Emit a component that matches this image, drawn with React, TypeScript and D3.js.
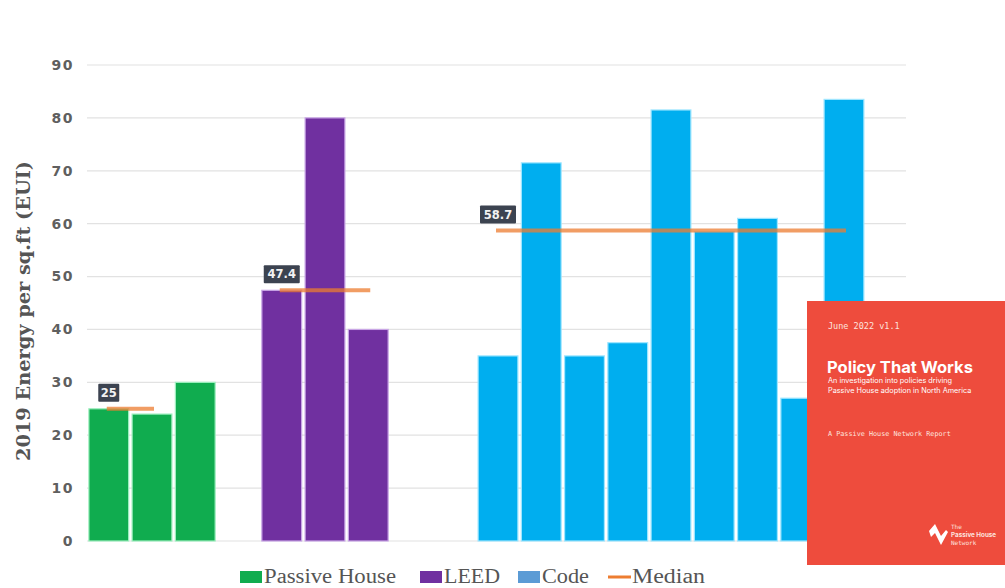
import React from "react";
import * as d3 from "d3";

const yTicks = [0, 10, 20, 30, 40, 50, 60, 70, 80, 90];
const phValues = [25, 24, 30];
const leedValues = [47.4, 80, 40];
const codeValues = [35, 71.5, 35, 37.5, 81.5, 58.5, 61, 27, 83.5];
const medianValues = [25, 47.4, 58.7];
const medianLabels = ["25", "47.4", "58.7"];
const medianSpans: [number, number][] = [[0, 1], [4, 6], [9, 17]];
const legendItems = ["Passive House", "LEED", "Code", "Median"];
const yAxisTitle = "2019 Energy per sq.ft (EUI)";

const W = 1005;
const H = 588;

const COLORS = {
  ph: "#10ac4f",
  phEdge: "#9ff0c0",
  leed: "#7030a0",
  leedEdge: "#c9a6e6",
  code: "#00aeef",
  codeEdge: "#9fe6ff",
  codeLegend: "#5b9bd5",
  median: "#ed7d31",
};

type Bar = { slot: number; value: number; group: "ph" | "leed" | "code" };

const bars: Bar[] = [
  ...phValues.map((v, i) => ({ slot: i, value: v, group: "ph" as const })),
  ...leedValues.map((v, i) => ({ slot: 4 + i, value: v, group: "leed" as const })),
  ...codeValues.map((v, i) => ({ slot: 9 + i, value: v, group: "code" as const })),
];

export default function App() {
  const slots = d3.range(19).map(String);
  const x = d3
    .scaleBand<string>()
    .domain(slots)
    .range([88, 908])
    .paddingInner(0.08)
    .paddingOuter(0.02);
  const y = d3.scaleLinear().domain([0, 90]).range([541, 65]);
  const bw = x.bandwidth();
  const cx = (s: number) => (x(String(s)) as number) + bw / 2;

  const fill = (g: string) => (g === "ph" ? COLORS.ph : g === "leed" ? COLORS.leed : COLORS.code);
  const edge = (g: string) => (g === "ph" ? COLORS.phEdge : g === "leed" ? COLORS.leedEdge : COLORS.codeEdge);

  const legendX = [240, 420, 518, 608];
  const legendTextW = [132, 56, 47, 73];
  const legendColors = [COLORS.ph, COLORS.leed, COLORS.codeLegend, COLORS.median];

  return (
    <svg width={W} height={H} style={{ position: "absolute", left: 0, top: 0, background: "#fff" }}>
      <rect x={0} y={0} width={W} height={H} fill="#fff" />
      {/* gridlines */}
      {yTicks.map((t) => (
        <line key={t} x1={87} x2={906} y1={y(t)} y2={y(t)} stroke="#e2e2e2" strokeWidth={1.2} />
      ))}
      {/* tick labels */}
      {yTicks.map((t) => (
        <text
          key={"l" + t}
          x={74}
          y={y(t)}
          dy="0.35em"
          textAnchor="end"
          fontFamily="DejaVu Sans, sans-serif"
          fontSize={14}
          fontWeight={600}
          letterSpacing={1.5}
          fill="#5f5f5f"
        >
          {t}
        </text>
      ))}
      {/* y title */}
      <text
        transform={`translate(30,${311}) rotate(-90)`}
        textAnchor="middle"
        fontFamily="DejaVu Serif, Liberation Serif, serif"
        fontWeight="bold"
        fontSize={19}
        textLength={300}
        lengthAdjust="spacingAndGlyphs"
        fill="#555"
      >
        {yAxisTitle}
      </text>
      {/* bars */}
      {bars.map((b, i) => (
        <rect
          key={i}
          x={x(String(b.slot))}
          y={y(b.value)}
          width={bw}
          height={y(0) - y(b.value)}
          fill={fill(b.group)}
          stroke={edge(b.group)}
          strokeWidth={1.2}
        />
      ))}
      {/* medians */}
      {medianValues.map((m, i) => {
        const [a, b] = medianSpans[i];
        const x1 = cx(a) - 2;
        const x2 = cx(b) + 2;
        const yy = y(m);
        const label = medianLabels[i];
        const bwBox = label.length * 7.5 + 6;
        return (
          <g key={"m" + i}>
            <line x1={x1} x2={x2} y1={yy} y2={yy} stroke={COLORS.median} strokeWidth={4} opacity={0.75} />
            <rect x={cx(a) - bwBox / 2} y={yy - 25} width={bwBox} height={18} fill="#3c4350" rx={1} />
            <text
              x={cx(a)}
              y={yy - 16}
              dy="0.35em"
              textAnchor="middle"
              fontFamily="DejaVu Sans, sans-serif"
              fontSize={11.5}
              fontWeight="bold"
              fill="#f2f2f2"
            >
              {label}
            </text>
          </g>
        );
      })}
      {/* legend */}
      {legendItems.map((name, i) => (
        <g key={name}>
          {i < 3 ? (
            <rect x={legendX[i]} y={571} width={22} height={12} fill={legendColors[i]} />
          ) : (
            <line x1={legendX[i]} x2={legendX[i] + 23} y1={577} y2={577} stroke={legendColors[i]} strokeWidth={3} />
          )}
          <text
            x={legendX[i] + 24}
            y={583}
            fontFamily="Liberation Serif, DejaVu Serif, serif"
            fontSize={20}
            textLength={legendTextW[i]}
            lengthAdjust="spacingAndGlyphs"
            fill="#555"
          >
            {name}
          </text>
        </g>
      ))}
      {/* report cover overlay */}
      <g>
        <rect x={807} y={301} width={198} height={264} fill="#ee4c3d" />
        <text x={828} y={329} fontFamily="DejaVu Sans Mono, Liberation Mono, monospace" fontSize={8.5} fill="#fde3df">
          June 2022 v1.1
        </text>
        <text x={827} y={373} fontFamily="Inter, Roboto, sans-serif" fontWeight="bold" fontSize={16.5} fill="#fff">
          Policy That Works
        </text>
        <text x={828} y={383} fontFamily="Inter, Roboto, sans-serif" fontSize={7.3} fill="#fff">
          An investigation into policies driving
        </text>
        <text x={828} y={393} fontFamily="Inter, Roboto, sans-serif" fontSize={7.3} fill="#fff">
          Passive House adoption in North America
        </text>
        <text x={828} y={436} fontFamily="DejaVu Sans Mono, Liberation Mono, monospace" fontSize={6.8} fill="#fde3df">
          A Passive House Network Report
        </text>
        <path d="M929,531 L935,524 L941,536 L946,530 L948,532 L941,545 L935,533 L931,537 Z" fill="#fff" />
        <text x={951} y={529} fontFamily="DejaVu Sans Mono, monospace" fontSize={6} fill="#fde3df">
          The
        </text>
        <text x={951} y={537} fontFamily="Inter, Roboto, sans-serif" fontWeight="bold" fontSize={6.3} fill="#fde3df">
          Passive House
        </text>
        <text x={951} y={545} fontFamily="DejaVu Sans Mono, monospace" fontSize={6} fill="#fde3df">
          Network
        </text>
      </g>
    </svg>
  );
}
